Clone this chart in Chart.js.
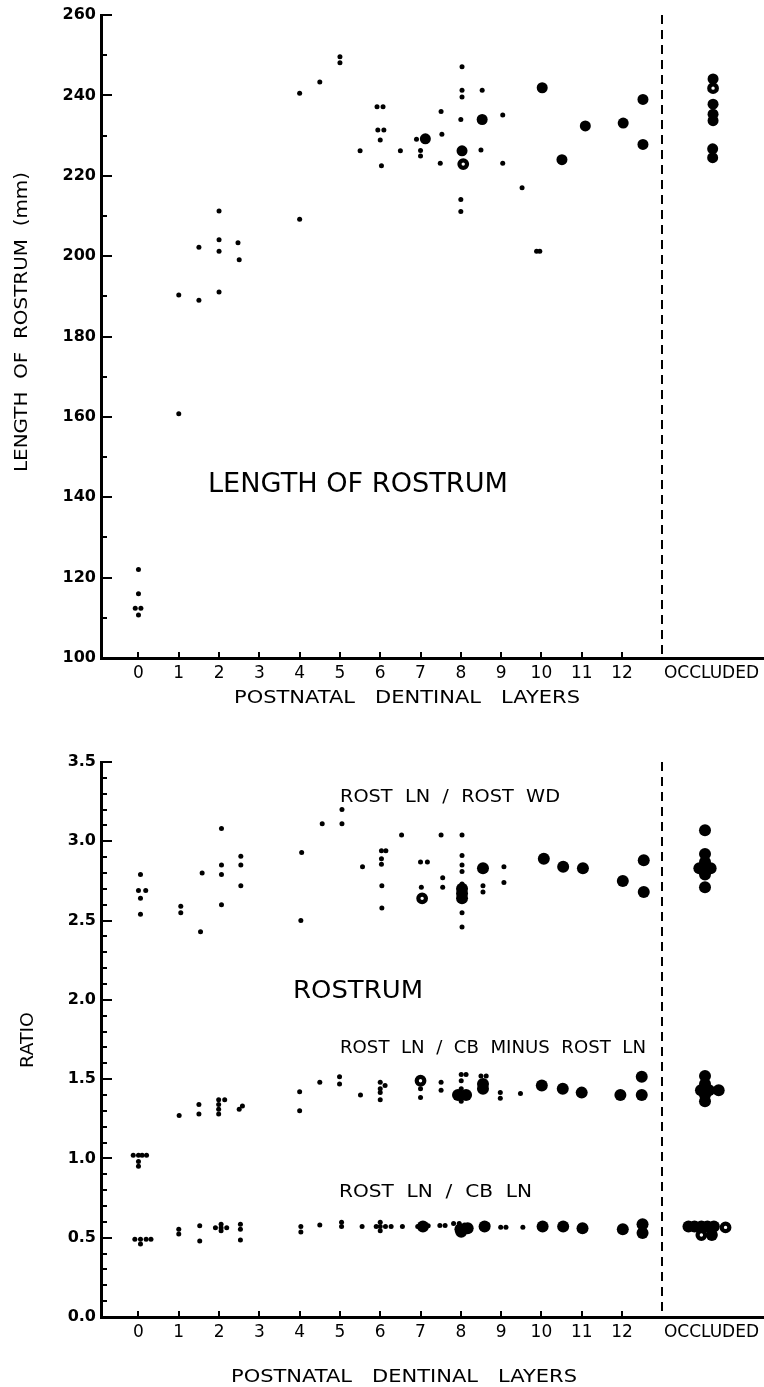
<!DOCTYPE html>
<html>
<head>
<meta charset="utf-8">
<script src="https://cdn.jsdelivr.net/npm/chart.js@4.4.1/dist/chart.umd.min.js"></script>
<style>
html,body{margin:0;padding:0;background:#fff;}
#wrap{position:relative;width:764px;height:1387px;overflow:hidden;}
#box1{position:absolute;left:0;top:0;width:764px;height:720px;}
#box2{position:absolute;left:0;top:720px;width:764px;height:667px;}
</style>
</head>
<body>
<div id="wrap">
  <div id="box1"><canvas id="c1" width="764" height="720"></canvas></div>
  <div id="box2"><canvas id="c2" width="764" height="667"></canvas></div>
</div>
<script>
// ---------------- DATA ----------------
const xTickValues = [0,1,2,3,4,5,6,7,8,9,10,11,12,14.22];
const xTickLabels = ['0','1','2','3','4','5','6','7','8','9','10','11','12','OCCLUDED'];
const xTickMarks  = [0,1,2,3,4,5,6,7,8,9,10,11,12];
const dividerX = 13;

const lengthMajorTicks = [100,120,140,160,180,200,220,240,260];
const lengthMinorTicks = [110,130,150,170,190,210,230,250];
const ratioMajorTicks = [0,0.5,1.0,1.5,2.0,2.5,3.0,3.5];
const ratioMinorTicks = [0.1,0.2,0.3,0.4,0.6,0.7,0.8,0.9,1.1,1.2,1.3,1.4,1.6,1.7,1.8,1.9,
                         2.1,2.2,2.3,2.4,2.6,2.7,2.8,2.9,3.1,3.2,3.3,3.4];

// Length of rostrum (mm) — single specimens (small dots)
const rostrumLengthSmall = [
  [0,122],[0,116],[-0.08,112.4],[0.06,112.4],[0,110.7],
  [1,190.3],[1,160.8],
  [1.5,189.0],[1.5,202.2],
  [2,211.2],[2,204.1],[2,201.2],[2,191.1],
  [2.47,203.3],[2.5,199.1],
  [4,240.5],[4,209.2],
  [4.5,243.3],
  [5,249.6],[5,248.1],
  [5.5,226.2],
  [5.92,237.2],[6.07,237.2],[5.94,231.4],[6.09,231.4],[6.0,228.9],[6.03,222.5],
  [6.5,226.2],
  [6.9,229.1],[7.0,226.3],[7.0,224.9],
  [7.51,236.0],[7.53,230.3],[7.49,223.1],
  [8.03,247.1],[8.03,241.3],[8.03,239.6],[8.0,234.0],[8.0,214.1],[8.0,211.1],
  [8.53,241.3],[8.5,226.4],
  [9.04,235.1],[9.04,223.1],
  [9.52,217.0],
  [9.88,201.2],[9.96,201.2]
];
// Length of rostrum (mm) — large dots
const rostrumLengthLarge = [
  [7.12,229.2],[8.03,226.2],[8.53,234.0],
  [10.02,241.9],[10.51,224.0],[11.09,232.4],[12.03,233.1],[12.52,239.0],[12.52,227.8],
  [14.26,244.1],[14.26,237.8],[14.26,235.3],[14.26,233.7],[14.25,226.7],[14.25,224.5]
];
const rostrumLengthOpen = [[8.06,222.9],[14.26,241.8]];

// Ratio: ROST LN / ROST WD
const lnWdSmall = [
  [0.05,2.79],[0,2.69],[0.18,2.69],[0.05,2.64],[0.05,2.54],
  [1.05,2.59],[1.05,2.55],
  [1.54,2.43],[1.58,2.80],
  [2.06,3.08],[2.06,2.85],[2.06,2.79],[2.06,2.60],
  [2.54,2.905],[2.54,2.85],[2.54,2.72],
  [4.05,2.93],[4.03,2.50],
  [4.56,3.11],
  [5.05,3.20],[5.05,3.11],
  [5.56,2.84],
  [6.03,2.94],[6.14,2.94],[6.03,2.89],[6.03,2.855],[6.04,2.72],[6.04,2.58],
  [6.53,3.04],
  [7.0,2.87],[7.17,2.87],[7.02,2.71],
  [7.51,3.04],[7.55,2.77],[7.55,2.71],
  [8.03,3.04],[8.03,2.91],[8.03,2.85],[8.03,2.81],[8.03,2.73],[8.03,2.55],[8.03,2.46],
  [8.55,2.72],[8.55,2.68],
  [9.07,2.84],[9.07,2.74]
];
const lnWdLarge = [
  [8.03,2.70],[8.03,2.67],[8.03,2.64],[8.55,2.83],
  [10.06,2.89],[10.54,2.84],[11.03,2.83],[12.02,2.75],[12.54,2.88],[12.54,2.68],
  [14.06,3.07],[14.06,2.92],[14.06,2.87],[13.92,2.83],[14.2,2.83],[14.06,2.83],[14.06,2.79],[14.06,2.71]
];
const lnWdOpen = [[7.04,2.64]];

// Ratio: ROST LN / CB MINUS ROST LN
const lnCbMinusSmall = [
  [-0.13,1.02],[0,1.02],[0.09,1.02],[0.2,1.02],[0,0.98],[0,0.95],
  [1.01,1.27],
  [1.5,1.34],[1.5,1.28],
  [1.99,1.37],[2.14,1.37],[1.99,1.34],[1.99,1.31],[1.99,1.28],
  [2.5,1.31],[2.58,1.33],
  [4.0,1.42],[4.0,1.30],
  [4.5,1.48],
  [4.99,1.515],[4.99,1.47],
  [5.51,1.40],
  [6.0,1.48],[6.12,1.46],[6.0,1.44],[6.0,1.415],[6.0,1.37],
  [7.0,1.44],[7.0,1.385],
  [7.51,1.48],[7.51,1.43],
  [8.01,1.53],[8.13,1.53],[8.01,1.49],[8.01,1.44],[8.01,1.36],
  [8.5,1.52],[8.63,1.52],
  [8.98,1.415],[8.98,1.38],
  [9.48,1.41]
];
const lnCbMinusLarge = [
  [7.93,1.40],[8.13,1.40],[8.55,1.47],[8.55,1.44],
  [10.01,1.46],[10.53,1.44],[11.0,1.415],[11.96,1.40],[12.49,1.515],[12.49,1.40],
  [14.06,1.52],[14.06,1.47],[13.96,1.43],[14.16,1.43],[14.4,1.43],[14.06,1.40],[14.06,1.36]
];
const lnCbMinusOpen = [[7.0,1.49]];

// Ratio: ROST LN / CB LN
const lnCbSmall = [
  [-0.09,0.49],[0.05,0.49],[0.19,0.49],[0.31,0.49],[0.05,0.46],
  [1.0,0.553],[1.0,0.523],
  [1.52,0.576],[1.52,0.48],
  [1.91,0.563],[2.05,0.563],[2.19,0.563],[2.05,0.585],[2.05,0.544],
  [2.53,0.585],[2.53,0.553],[2.53,0.486],
  [4.03,0.57],[4.03,0.536],
  [4.5,0.58],
  [5.04,0.597],[5.04,0.57],
  [5.55,0.57],
  [5.9,0.57],[6.0,0.57],[6.13,0.57],[6.27,0.57],[6.0,0.597],[6.0,0.544],
  [6.55,0.57],
  [6.93,0.57],[7.19,0.575],
  [7.48,0.577],[7.61,0.577],
  [7.82,0.59],[7.96,0.59],[8.09,0.58],
  [8.54,0.58],[8.67,0.58],
  [8.99,0.566],[9.12,0.566],
  [9.54,0.566]
];
const lnCbLarge = [
  [7.06,0.57],[7.99,0.553],[8.01,0.538],[8.17,0.56],[8.59,0.57],
  [10.03,0.57],[10.54,0.57],[11.02,0.56],[12.02,0.553],[12.51,0.585],[12.51,0.53],
  [13.65,0.57],[13.8,0.57],[13.97,0.57],[14.12,0.57],[14.28,0.57],[14.23,0.517]
];
const lnCbOpen = [[14.57,0.565],[13.97,0.517]];

// ---------------- HELPERS ----------------
const FONT = '"DejaVu Sans", "Liberation Sans", sans-serif';
const toXY = arr => arr.map(p => ({x: p[0], y: p[1]}));

function smallSet(arr){ return {data: toXY(arr), pointRadius: 2.5, pointBorderWidth: 0, pointBackgroundColor: '#000', showLine:false}; }
function largeSet(arr, r){ return {data: toXY(arr), pointRadius: r, pointBorderWidth: 0, pointBackgroundColor: '#000', showLine:false}; }
function openSet(arr){ return {data: toXY(arr), pointRadius: 3.8, pointBorderWidth: 4.2, pointBorderColor:'#000', pointBackgroundColor: '#fff', showLine:false}; }

function drawText(ctx, t){
  ctx.save();
  ctx.font = (t.weight || 'normal') + ' ' + t.size + 'px ' + FONT;
  ctx.fillStyle = '#000';
  const w = ctx.measureText(t.text).width;
  const sx = t.width ? t.width / w : 1;
  ctx.translate(t.x, t.y);
  if (t.rotate) {
    ctx.rotate(-Math.PI/2);
    ctx.textAlign = 'center';
    ctx.textBaseline = 'middle';
  } else {
    ctx.textAlign = 'left';
    ctx.textBaseline = 'alphabetic';
  }
  ctx.scale(sx, 1);
  ctx.fillText(t.text, 0, 0);
  ctx.restore();
}

const decor = {
  id: 'decor',
  afterDraw(chart, args, o){
    const ctx = chart.ctx, xs = chart.scales.x, ys = chart.scales.y, ca = chart.chartArea;
    ctx.save();
    ctx.strokeStyle = '#000';
    ctx.lineWidth = 2;
    const seg = (x1,y1,x2,y2) => { ctx.beginPath(); ctx.moveTo(x1,y1); ctx.lineTo(x2,y2); ctx.stroke(); };
    o.yMajor.forEach(v => { const p = Math.round(ys.getPixelForValue(v)); seg(ca.left, p, ca.left + 11, p); });
    o.yMinor.forEach(v => { const p = Math.round(ys.getPixelForValue(v)); seg(ca.left, p, ca.left + 6, p); });
    o.xMarks.forEach(v => { const p = Math.round(xs.getPixelForValue(v)); seg(p, ca.bottom, p, ca.bottom - 6); });
    ctx.lineWidth = 2;
    ctx.setLineDash([9,6]);
    const dx = Math.round(xs.getPixelForValue(o.divider));
    seg(dx, ca.top, dx, ca.bottom);
    ctx.setLineDash([]);
    ctx.restore();
    o.texts.forEach(t => drawText(ctx, t));
  }
};

function makeXScale(){
  return {
    type: 'linear', min: -0.93, max: 15.5,
    grid: {display: false, drawTicks: false},
    border: {display: true, color: '#000', width: 3},
    afterBuildTicks: s => { s.ticks = xTickValues.map(v => ({value: v})); },
    ticks: {
      autoSkip: false, maxRotation: 0, padding: 5, color: '#000',
      font: {family: FONT, size: 17},
      callback: (v) => { const i = xTickValues.indexOf(v); return i >= 0 ? xTickLabels[i] : ''; }
    }
  };
}

function baseOptions(padTop){
  return {
    responsive: false, animation: false, events: [],
    layout: {padding: {top: padTop, left: 0, right: 0, bottom: 0}, autoPadding: false},
    plugins: {legend: {display: false}, tooltip: {enabled: false}},
    scales: {}
  };
}

// ---------------- CHART 1 ----------------
const opt1 = baseOptions(15);
opt1.scales.x = makeXScale();
opt1.scales.x.afterFit = s => { s.height = 62; };
opt1.scales.y = {
  type: 'linear', min: 100, max: 260,
  grid: {display: false, drawTicks: false},
  border: {display: true, color: '#000', width: 3},
  afterBuildTicks: s => { s.ticks = lengthMajorTicks.map(v => ({value: v})); },
  afterFit: s => { s.width = 101; },
  ticks: {padding: 5, color: '#000', font: {family: FONT, size: 16, weight: 'bold'}}
};
opt1.plugins.decor = {
  yMajor: lengthMajorTicks, yMinor: lengthMinorTicks, xMarks: xTickMarks, divider: dividerX,
  texts: [
    {text: 'LENGTH OF ROSTRUM', x: 208, y: 492, size: 27, width: 300},
    {text: 'POSTNATAL   DENTINAL   LAYERS', x: 234, y: 703, size: 18, width: 346},
    {text: 'LENGTH  OF  ROSTRUM  (mm)', x: 22, y: 322, size: 18, width: 300, rotate: true}
  ]
};
new Chart(document.getElementById('c1'), {
  type: 'scatter',
  data: {datasets: [
    smallSet(rostrumLengthSmall),
    largeSet(rostrumLengthLarge, 5.5),
    openSet(rostrumLengthOpen)
  ]},
  options: opt1,
  plugins: [decor]
});

// ---------------- CHART 2 ----------------
const opt2 = baseOptions(42);
opt2.scales.x = makeXScale();
opt2.scales.x.afterFit = s => { s.height = 70; };
opt2.scales.y = {
  type: 'linear', min: 0, max: 3.5,
  grid: {display: false, drawTicks: false},
  border: {display: true, color: '#000', width: 3},
  afterBuildTicks: s => { s.ticks = ratioMajorTicks.map(v => ({value: v})); },
  afterFit: s => { s.width = 101; },
  ticks: {padding: 5, color: '#000', font: {family: FONT, size: 16, weight: 'bold'}, callback: v => Number(v).toFixed(1)}
};
opt2.plugins.decor = {
  yMajor: ratioMajorTicks, yMinor: ratioMinorTicks, xMarks: xTickMarks, divider: dividerX,
  texts: [
    {text: 'ROST  LN  /  ROST  WD', x: 340, y: 82, size: 18, width: 220},
    {text: 'ROSTRUM', x: 293, y: 278, size: 25, width: 130},
    {text: 'ROST  LN  /  CB  MINUS  ROST  LN', x: 340, y: 333, size: 18, width: 306},
    {text: 'ROST  LN  /  CB  LN', x: 339, y: 477, size: 18, width: 193},
    {text: 'POSTNATAL   DENTINAL   LAYERS', x: 231, y: 662, size: 18, width: 346},
    {text: 'RATIO', x: 28, y: 320, size: 18, width: 56, rotate: true}
  ]
};
new Chart(document.getElementById('c2'), {
  type: 'scatter',
  data: {datasets: [
    smallSet(lnWdSmall), largeSet(lnWdLarge, 6), openSet(lnWdOpen),
    smallSet(lnCbMinusSmall), largeSet(lnCbMinusLarge, 6), openSet(lnCbMinusOpen),
    smallSet(lnCbSmall), largeSet(lnCbLarge, 6), openSet(lnCbOpen)
  ]},
  options: opt2,
  plugins: [decor]
});
</script>
</body>
</html>
